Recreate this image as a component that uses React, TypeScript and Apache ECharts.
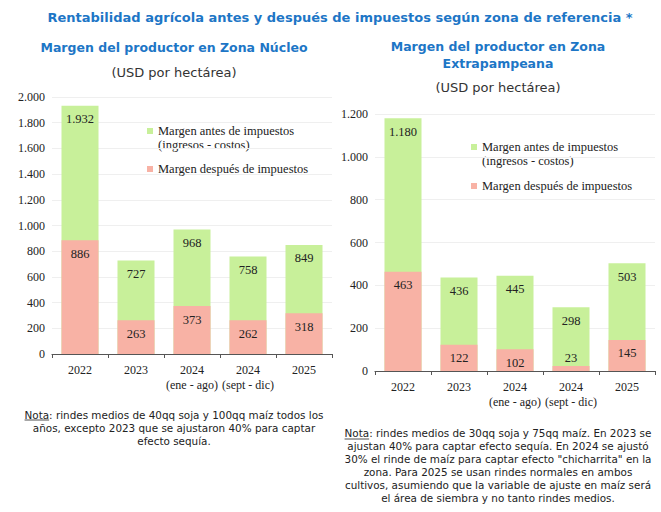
import React, { useEffect, useRef } from "react";
import * as echarts from "echarts";

const categories = ["2022", "2023", "2024", "2024", "2025"];
const categoryPeriods = ["", "", "(ene - ago)", "(sept - dic)", ""];
const nucleoAntes = [1932, 727, 968, 758, 849];
const nucleoDespues = [886, 263, 373, 262, 318];
const extraAntes = [1180, 436, 445, 298, 503];
const extraDespues = [463, 122, 102, 23, 145];
const seriesNames = ["Margen antes de impuestos", "Margen después de impuestos"];
const legendSubline = "(ingresos - costos)";
const mainTitle = "Rentabilidad agrícola antes y después de impuestos según zona de referencia *";
const leftTitle = "Margen del productor en Zona Núcleo";
const rightTitle = "Margen del productor en Zona\nExtrapampeana";
const unitText = "(USD por hectárea)";
const leftNote = [
  "rindes medios de 40qq soja y 100qq maíz todos los",
  "años, excepto 2023 que se ajustaron 40% para captar",
  "efecto sequía.",
];
const rightNote = [
  "rindes medios de 30qq soja y 75qq maíz. En 2023 se",
  "ajustan 40% para captar efecto sequía. En 2024 se ajustó",
  "30% el rinde de maíz para captar efecto \"chicharrita\" en la",
  "zona. Para 2025 se usan rindes normales en ambos",
  "cultivos, asumiendo que la variable de ajuste en maíz será",
  "el área de siembra y no tanto rindes medios.",
];

const GREEN = "#c8f09a";
const PINK = "#f8b2a5";
const BLUE = "#1d76c6";
const SERIF = "'Liberation Serif', 'DejaVu Serif', serif";
const SANS = "'DejaVu Sans', 'Noto Sans', sans-serif";
const NOTE_FONT = `10.4px ${SANS}`;

const fmt = (v: number) => String(v).replace(/\B(?=(\d{3})+(?!\d))/g, ".");

export default function App() {
  const ref = useRef<HTMLDivElement>(null);
  useEffect(() => {
    if (!ref.current) return;
    const chart = echarts.init(ref.current, undefined, { renderer: "svg" });

    const grids = [
      { left: 52, top: 97, width: 280, height: 257 },
      { left: 375, top: 114, width: 280, height: 257 },
    ];
    const maxes = [2000, 1200];

    const xAxes = grids.map((_, i) => ({
      type: "category",
      gridIndex: i,
      data: categories.map((c, j) => (categoryPeriods[j] ? c + "\n" + categoryPeriods[j] : c)),
      axisLine: { lineStyle: { color: "#555", width: 1.2 } },
      axisTick: { show: true, length: 4, lineStyle: { color: "#555" } },
      axisLabel: {
        color: "#222",
        fontFamily: SERIF,
        fontSize: 12,
        lineHeight: 15,
        margin: 8,
        interval: 0,
      },
    }));
    const yAxes = grids.map((_, i) => ({
      type: "value",
      gridIndex: i,
      min: 0,
      max: maxes[i],
      interval: 200,
      axisLine: { show: false },
      axisTick: { show: false },
      splitLine: { lineStyle: { color: "#efefef" } },
      axisLabel: {
        color: "#222",
        fontFamily: SERIF,
        fontSize: 12,
        margin: 7,
        formatter: (v: number) => fmt(v),
      },
    }));

    const labelBase = {
      show: true,
      position: "insideTop",
      distance: 7,
      color: "#222",
      fontFamily: SERIF,
      fontSize: 12.5,
      formatter: (p: any) => fmt(p.value),
    };

    const makeSeries = (antes: number[], despues: number[], idx: number) => [
      {
        name: seriesNames[0],
        type: "bar",
        xAxisIndex: idx,
        yAxisIndex: idx,
        barWidth: 37,
        data: antes,
        itemStyle: { color: GREEN },
        label: labelBase,
      },
      {
        name: seriesNames[1],
        type: "bar",
        xAxisIndex: idx,
        yAxisIndex: idx,
        barWidth: 37,
        barGap: "-100%",
        data: despues.map((v) =>
          v < 60 ? { value: v, label: { position: "top", distance: 2 } } : v
        ),
        itemStyle: { color: PINK },
        label: {
          ...labelBase,
          formatter: (p: any) => fmt(typeof p.value === "number" ? p.value : p.data.value),
        },
      },
    ];

    const legendFont = { color: "#222", fontFamily: SERIF, fontSize: 12.5 };
    const legendFor = (left: number, top: number, gap: number) => ({
      orient: "vertical",
      left,
      top,
      padding: 0,
      itemWidth: 6,
      itemHeight: 6,
      itemGap: gap,
      icon: "rect",
      selectedMode: false,
      textStyle: { ...legendFont, lineHeight: 14 },
      data: [{ name: seriesNames[0] }, { name: seriesNames[1] }],
    });
    const sublineText = (x: number, y: number) => ({
      type: "text",
      x,
      y,
      style: {
        text: legendSubline,
        fill: "#222",
        font: `12.5px ${SERIF}`,
        textAlign: "left",
        textVerticalAlign: "middle",
      },
    });

    const noteText = (x: number, y: number, lines: string[]) => ({
      type: "text",
      x,
      y,
      style: {
        text: "Nota: " + lines.join("\n"),
        fill: "#222",
        font: NOTE_FONT,
        textAlign: "center",
        textVerticalAlign: "top",
        lineHeight: 13,
      },
    });
    const measure = (s: string) => {
      const c = document.createElement("canvas").getContext("2d");
      if (!c) return s.length * 6;
      c.font = NOTE_FONT;
      return c.measureText(s).width;
    };
    const underline = (cx: number, firstLine: string, y: number) => {
      const full = measure("Nota: " + firstLine);
      const x1 = cx - full / 2;
      const x2 = x1 + measure("Nota");
      return {
        type: "line",
        shape: { x1, y1: y, x2, y2: y },
        style: { stroke: "#222", lineWidth: 0.8 },
      };
    };

    chart.setOption({
      animation: false,
      grid: grids,
      xAxis: xAxes,
      yAxis: yAxes,
      legend: [legendFor(147, 124, 24), legendFor(471, 140, 25)],
      series: [...makeSeries(nucleoAntes, nucleoDespues, 0), ...makeSeries(extraAntes, extraDespues, 1)],
      graphic: [
        {
          type: "text",
          x: 340,
          y: 17,
          style: { text: mainTitle, fill: BLUE, font: `bold 13px ${SANS}`, textAlign: "center", textVerticalAlign: "middle" },
        },
        {
          type: "text",
          x: 174,
          y: 47,
          style: { text: leftTitle, fill: BLUE, font: `bold 12.5px ${SANS}`, textAlign: "center", textVerticalAlign: "middle" },
        },
        {
          type: "text",
          x: 174,
          y: 72,
          style: { text: unitText, fill: "#333", font: `13px ${SANS}`, textAlign: "center", textVerticalAlign: "middle" },
        },
        {
          type: "text",
          x: 498,
          y: 38.5,
          style: { text: rightTitle, fill: BLUE, font: `bold 12.5px ${SANS}`, textAlign: "center", textVerticalAlign: "top", lineHeight: 16.5 },
        },
        {
          type: "text",
          x: 498,
          y: 87,
          style: { text: unitText, fill: "#333", font: `13px ${SANS}`, textAlign: "center", textVerticalAlign: "middle" },
        },
        sublineText(158, 145),
        sublineText(482, 161),
        noteText(174, 408.5, leftNote),
        noteText(498, 426.5, rightNote),
        underline(174, leftNote[0], 420),
        underline(498, rightNote[0], 439),
      ],
    });
    return () => chart.dispose();
  }, []);
  return (
    <div
      ref={ref}
      style={{ position: "absolute", left: 0, top: 0, width: 661, height: 512 }}
    />
  );
}
